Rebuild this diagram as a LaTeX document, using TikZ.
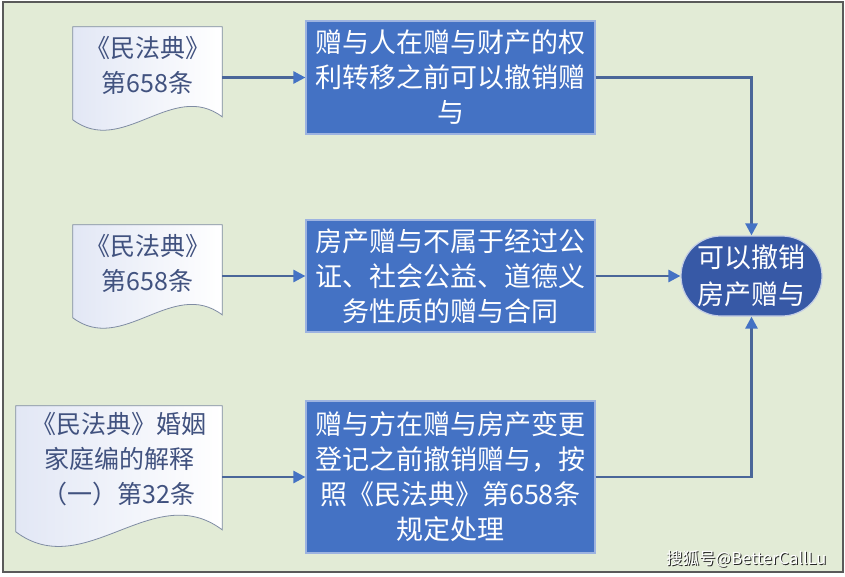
\documentclass[tikz,border=0pt]{standalone}
\usepackage{fontspec}
\setmainfont{Noto Sans CJK SC}
\usepackage{xcolor}
\usepackage{tikz}
\usetikzlibrary{arrows.meta,backgrounds,calc}
\definecolor{paper}{HTML}{E2EBD6}
\definecolor{frameline}{HTML}{5A5A5A}
\definecolor{boxblue}{HTML}{4472C4}
\definecolor{boxedge}{HTML}{9DB3E0}
\definecolor{termblue}{HTML}{3759A6}
\definecolor{linkline}{HTML}{4A6699}
\definecolor{doctext}{HTML}{41527F}
\definecolor{docedge}{HTML}{7F8CA3}
\definecolor{docshade}{HTML}{E2E7F5}

% document outline: node, width, right drop, left drop
\newcommand{\docoutline}[4]{%
  \path[docfill] (#1.north west) -- (#1.north east) -- ++(0,#3)
    .. controls +(-#2/3,-#2/4) and +(#2/3,#2/4) .. ($(#1.north west)+(0,#4)$) -- cycle;}

\begin{document}
\begin{tikzpicture}[
  x=1pt, y=-1pt,
  box/.style={draw=boxedge, line width=1.2pt, fill=boxblue, text=white, minimum width=289pt,
    font=\fontsize{27}{35}\selectfont, align=center, inner sep=0pt},
  doc/.style={text=doctext, font=\fontsize{25}{35}\selectfont, align=center, inner sep=0pt},
  docfill/.style={draw=docedge, line width=0.8pt, left color=docshade, right color=white},
  arrow/.style={draw=linkline, line width=2.6pt, -{Triangle[length=12pt,width=12pt,color=boxblue]}}
]
  \useasboundingbox (0,0) rectangle (845,576);

  % Legal sources
  \node[doc, minimum width=149pt, minimum height=76pt] (law1) at (147.5,65) {《民法典》\\第658条};
  \node[doc, minimum width=149pt, minimum height=76pt] (law2) at (147.5,263) {《民法典》\\第658条};
  \node[doc, minimum width=206pt, minimum height=106pt] (law3) at (119,459) {《民法典》婚姻\\家庭编的解释\\（一）第32条};

  % Rules
  \node[box, minimum height=113pt] (rule1) at (450.5,77.5) {赠与人在赠与财产的权\\利转移之前可以撤销赠\\与};
  \node[box, minimum height=112pt] (rule2) at (450.5,276) {房产赠与不属于经过公\\证、社会公益、道德义\\务性质的赠与合同};
  \node[box, minimum height=152pt] (rule3) at (450.5,477) {赠与方在赠与房产变更\\登记之前撤销赠与，按\\照《民法典》第658条\\规定处理};

  % Result
  \node[box, fill=termblue, draw=white!70!termblue, minimum width=141pt, minimum height=80pt,
    rounded corners=40pt, font=\fontsize{27}{37}\selectfont] (result) at (751.5,276) {可以撤销\\房产赠与};

  % Arrows
  \draw[arrow] (rule1.west -| law1.east) -- (rule1.west);
  \draw[arrow] (rule2.west -| law2.east) -- (rule2.west);
  \draw[arrow] (rule3.west -| law3.east) -- (rule3.west);
  \draw[arrow] (rule1.east) -| (result.north);
  \draw[arrow] (rule2.east) -- (result.west);
  \draw[arrow] (rule3.east) -| (result.south);

  % Watermark
  \node[anchor=east, text=white, font=\fontsize{16.5}{16.5}\selectfont] (mark) at (830,559)
    {\makebox[0pt][l]{\raisebox{-1pt}{\hspace*{1pt}\color{black!85}搜狐号@BetterCallLu}}搜狐号@BetterCallLu};

  \begin{pgfonlayer}{background}
    \fill[white] (0,0) rectangle (845,576);
    \draw[frameline, fill=paper, line width=1.2pt] (3,2) rectangle (843,572);
    \docoutline{law1}{149}{90}{93}
    \docoutline{law2}{149}{90}{93}
    \docoutline{law3}{206}{124}{126}
  \end{pgfonlayer}
\end{tikzpicture}
\end{document}
